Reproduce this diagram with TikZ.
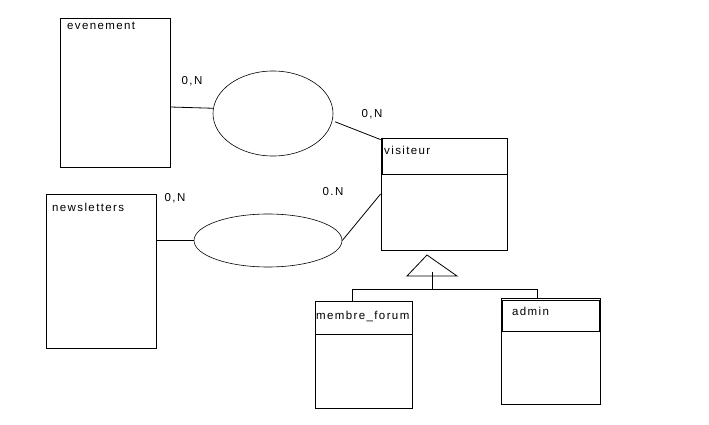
\documentclass[tikz,border=0pt]{standalone}
\usepackage{fontspec}
\setmainfont{Liberation Sans}[LetterSpace=12]
\usetikzlibrary{positioning, shapes.geometric}

\begin{document}
\begin{tikzpicture}[x=1pt, y=-1pt,
      entite/.style={draw, rectangle, inner sep=0pt, line width=0.8pt},
      entete/.style={draw, rectangle, inner sep=0pt, line width=1.4pt},
      assoc/.style={draw, ellipse, inner sep=0pt, line width=0.6pt},
      nom/.style={anchor=north west, inner sep=0pt, font=\fontsize{11.5}{13}\selectfont},
      card/.style={inner sep=0pt, font=\fontsize{11.5}{13}\selectfont},
      lien/.style={line width=0.8pt},
    ]
    \useasboundingbox (0,0) rectangle (709,425);

    %% --- Entites ---
    \node[entite, minimum width=110pt, minimum height=149pt] (evenement)   at (115,92.5)  {};
    \node[entite, minimum width=110pt, minimum height=154pt] (newsletters) at (101,271)   {};
    \node[entite, minimum width=126pt, minimum height=112pt] (visiteur)    at (444,194)   {};
    \node[entite, minimum width=97pt,  minimum height=107pt] (membre)      at (363.5,354.5) {};
    \node[entite, minimum width=99pt,  minimum height=106pt] (admin)       at (550.5,351) {};

    %% --- En-tetes ---
    \node[entete, minimum width=125pt, minimum height=36pt, anchor=north west]
      (visiteurTete) at ([xshift=1pt]visiteur.north west) {};
    \node[entite, minimum width=97pt, minimum height=33pt, anchor=north west]
      (membreTete) at (membre.north west) {};
    \node[entete, minimum width=97pt, minimum height=31pt, anchor=north west]
      (adminTete) at ([xshift=1pt, yshift=-2pt]admin.north west) {};

    \node[nom] (evenementNom)   at (67,22)   {evenement};
    \node[nom] (newslettersNom) at (52,203)  {newsletters};
    \node[nom] (visiteurNom)    at (384,146) {visiteur};
    \node[nom] (membreNom)      at (316,311) {membre\_forum};
    \node[nom] (adminNom)       at (512,307) {admin};

    %% --- Associations ---
    \node[assoc, minimum width=120pt, minimum height=85pt] (assocEv) at (273,113.5) {};
    \node[assoc, minimum width=148pt, minimum height=53pt] (assocNl) at (268,240.5) {};

    \draw[lien] ([yshift=-14.5pt]evenement.east) -- (assocEv.175);
    \draw[lien] ([xshift=3pt]assocEv.-8) -- ([yshift=-2pt]visiteur.north west);
    \draw[lien] (newsletters.east |- assocNl.west) -- (assocNl.west);
    \draw[lien] (assocNl.east) -- (visiteur.west);

    %% --- Cardinalites ---
    \node[card] (cardEv)  at (192,81)  {0,N};
    \node[card] (cardVe)  at (372,114) {0,N};
    \node[card] (cardNl)  at (175,198) {0,N};
    \node[card] (cardVn)  at (333,192) {0.N};

    %% --- Heritage ---
    \coordinate (sommet) at (427,255);
    \coordinate (pied)   at (432,272);
    \coordinate (barre)  at (432,289);
    \draw[lien] (sommet) -- (457,276) -- (407,276) -- cycle;
    \draw[lien] (pied) -- (barre);
    \draw[lien] (barre) -| ([xshift=-11.5pt]membre.north);
    \draw[lien] (barre) -| ([xshift=-13.5pt]admin.north);

\end{tikzpicture}
\end{document}
